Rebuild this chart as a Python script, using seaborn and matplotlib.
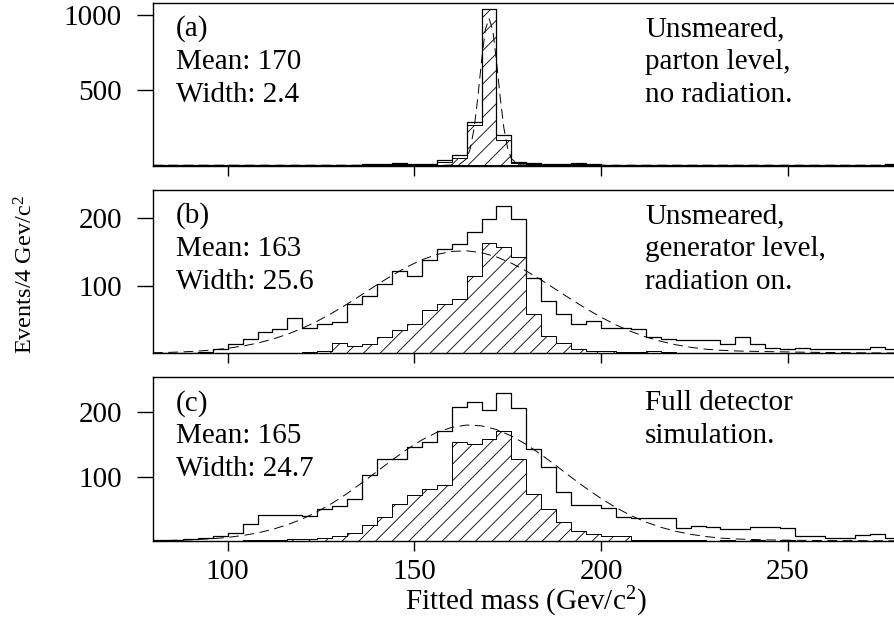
import numpy as np
import pandas as pd
import matplotlib
matplotlib.use("Agg")
import matplotlib.pyplot as plt
import seaborn as sns

# ---------------- data ----------------
mass_edges = list(range(80, 284, 4))          # 4 GeV/c^2 bins, 80 .. 280
bin_centres = [e + 2 for e in mass_edges[:-1]]

a_all = [0, 0, 0, 0, 0, 0, 1, 0, 1, 2, 2, 3, 1, 2, 5, 5, 15, 10, 10, 35,
         68, 290, 1040, 199, 24, 13, 8, 8, 13, 5, 3, 3, 4, 2, 3, 2, 4, 2, 1, 2,
         1, 2, 1, 1, 2, 1, 1, 2, 1, 5]
a_correct = [0, 0, 0, 0, 0, 0, 0, 0, 0, 0, 0, 0, 0, 0, 2, 3, 8, 5, 6, 20,
             50, 268, 1040, 168, 15, 8, 4, 3, 8, 2, 1, 1, 1, 0, 0, 0, 0, 0, 0, 0,
             0, 0, 0, 0, 0, 0, 0, 0, 0, 0]
a_fit_x = [80, 158, 162, 164, 165, 166, 167, 168, 169, 170, 171, 172, 173, 174,
           175, 176, 178, 182, 280]
a_fit_y = [0, 0, 4, 43, 112, 244, 449, 693, 899, 975, 899, 693, 449, 244,
           112, 43, 4, 0, 0]

b_all = [1, 1, 1, 2, 6, 14, 21, 31, 36, 52, 37, 43, 47, 73, 85, 102, 122, 114, 138, 154,
         162, 180, 199, 219, 199, 112, 78, 58, 43, 48, 38, 37, 36, 24, 21, 20, 20, 19, 14, 24,
         14, 8, 6, 8, 7, 7, 7, 6, 9, 6]
b_correct = [0, 0, 0, 0, 0, 0, 0, 1, 1, 1, 2, 4, 15, 11, 14, 24, 34, 43, 64, 73,
             81, 114, 163, 158, 143, 58, 26, 16, 7, 4, 4, 2, 2, 4, 2, 1, 1, 1, 1, 1,
             0, 1, 0, 1, 0, 0, 0, 0, 1, 0]
fit_x = list(range(80, 284, 4))
b_fit_y = [0.8, 1.3, 2.1, 3.3, 5.0, 7.4, 10.7, 15.1, 20.9, 28.2, 37.1, 47.6, 59.7,
           73.0, 87.1, 101.6, 115.4, 128.0, 138.6, 146.4, 151.0, 151.9, 149.1,
           142.9, 133.6, 121.9, 108.6, 94.3, 80.0, 66.2, 53.5, 42.1, 32.4, 24.3,
           17.8, 12.7, 8.9, 6.1, 4.5, 3.5, 3.0, 2.6, 2.2, 1.8, 1.5, 1.2, 1.0, 0.8,
           0.6, 0.5, 0.4]

c_all = [1, 2, 3, 4, 8, 13, 27, 41, 41, 40, 39, 50, 55, 65, 102, 127, 128, 146, 153, 171,
         208, 215, 204, 230, 206, 142, 115, 76, 56, 56, 51, 38, 36, 36, 36, 20, 23, 21, 18, 19,
         21, 21, 20, 8, 7, 5, 5, 10, 11, 5]
c_correct = [0, 0, 0, 0, 0, 0, 1, 1, 2, 3, 3, 4, 8, 13, 25, 37, 57, 72, 80, 87,
             153, 151, 158, 170, 128, 73, 50, 29, 16, 11, 7, 7, 2, 1, 1, 1, 1, 0, 1, 0,
             1, 0, 1, 0, 0, 0, 0, 0, 0, 0]
c_fit_y = [0.5, 0.8, 1.4, 2.3, 3.6, 5.6, 8.5, 12.5, 18.0, 25.2, 34.2, 45.4, 58.6,
           73.7, 90.4, 107.9, 125.4, 142.0, 156.7, 168.4, 176.3, 179.9, 178.7,
           172.9, 163.0, 149.7, 133.9, 116.7, 99.0, 81.9, 66.0, 51.8, 39.5, 29.4,
           21.3, 15.1, 10.4, 7.0, 4.5, 3.2, 2.4, 1.8, 1.4, 1.1, 0.9, 0.7, 0.6, 0.5,
           0.4, 0.3, 0.3]

panel_tags = ["(a)", "(b)", "(c)"]
panel_means = ["Mean: 170", "Mean: 163", "Mean: 165"]
panel_widths = ["Width: 2.4", "Width: 25.6", "Width: 24.7"]
panel_notes = [["Unsmeared,", "parton level,", "no radiation."],
               ["Unsmeared,", "generator level,", "radiation on."],
               ["Full detector", "simulation."]]
y_ticks = [[500, 1000], [100, 200], [100, 200]]
x_ticks = [100, 150, 200, 250]

# ---------------- style ----------------
sns.set_style("ticks")
plt.rcParams.update({
    "font.family": ["Liberation Serif", "DejaVu Serif"],
    "mathtext.fontset": "custom",
    "mathtext.rm": "Liberation Serif",
    "mathtext.it": "Liberation Serif:italic",
    "hatch.linewidth": 0.6,
    "hatch.color": "black",
    "lines.scale_dashes": False,
    "axes.edgecolor": "black",
    "xtick.color": "black",
    "ytick.color": "black",
    "text.color": "black",
})

W, H = 894, 620
FS = 21
fig = plt.figure(figsize=(W / 100, H / 100), dpi=100)


def fx(px):
    return px / W


def fy(py):
    return 1 - py / H


left_px, right_px = 153, 899.7
panel_px = [(3, 165.7), (190, 353.3), (377.3, 541)]
ylims = [(-3, 1077), (0, 242), (0, 254)]

alls = [a_all, b_all, c_all]
corrects = [a_correct, b_correct, c_correct]
fits = [(a_fit_x, a_fit_y), (fit_x, b_fit_y), (fit_x, c_fit_y)]

for i, (top, bot) in enumerate(panel_px):
    ax = fig.add_axes([fx(left_px), fy(bot), (right_px - left_px) / W, (bot - top) / H])
    df = pd.DataFrame({"mass": bin_centres, "all": alls[i], "correct": corrects[i]})
    fit_df = pd.DataFrame({"mass": fits[i][0], "fit": fits[i][1]})
    sns.histplot(data=df, x="mass", weights="correct", bins=mass_edges, element="step",
                 fill=True, facecolor="white", edgecolor="black", hatch="//",
                 linewidth=0.7, alpha=1, ax=ax)
    sns.histplot(data=df, x="mass", weights="all", bins=mass_edges, element="step",
                 fill=False, color="black", linewidth=0.9, ax=ax)
    sns.lineplot(data=fit_df, x="mass", y="fit", color="black", linewidth=0.7,
                 linestyle=(0, (7, 4)), sort=False, ax=ax)
    ax.set_xlim(80, 280)
    ax.set_ylim(*ylims[i])
    ax.set_xlabel("")
    ax.set_ylabel("")
    ax.set_xticks(x_ticks)
    ax.set_yticks(y_ticks[i])
    ax.spines["right"].set_visible(False)
    for s in ["left", "top", "bottom"]:
        ax.spines[s].set_linewidth(1.0)
    ax.tick_params(axis="x", direction="out", length=7.2, width=1.0, pad=6,
                   labelsize=FS)
    ax.tick_params(axis="y", direction="out", length=11.5, width=1.0, pad=11,
                   labelsize=FS)
    if i < 2:
        ax.tick_params(axis="x", labelbottom=False)

    baselines = [top + 33, top + 66, top + 99]
    fig.text(fx(176), fy(baselines[0]), panel_tags[i], fontsize=FS, va="baseline")
    fig.text(fx(176), fy(baselines[1]), panel_means[i], fontsize=FS, va="baseline")
    fig.text(fx(176), fy(baselines[2]), panel_widths[i], fontsize=FS, va="baseline")
    for j, note in enumerate(panel_notes[i]):
        fig.text(fx(645), fy(baselines[j]), note, fontsize=FS, va="baseline")

fig.text(fx(526), fy(610), r"Fitted mass (Gev/c$^{\mathrm{2}}$)", fontsize=FS,
         ha="center", va="baseline")
fig.text(fx(26), fy(275), r"Events/4 Gev/c$^{\mathrm{2}}$", fontsize=17.5,
         ha="center", va="center", rotation=90)

fig.savefig("out.png", dpi=100)
